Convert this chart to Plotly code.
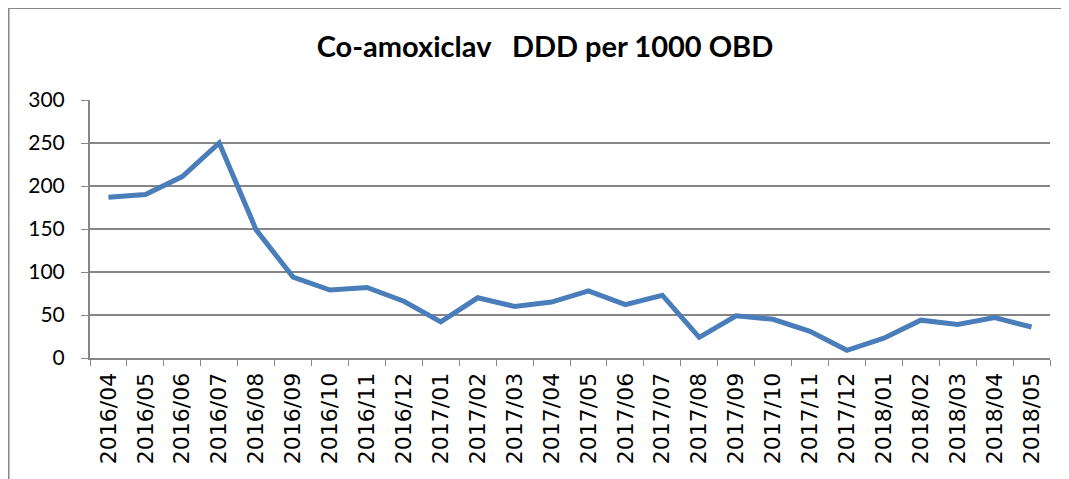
import plotly.graph_objects as go

months = ["2016/04", "2016/05", "2016/06", "2016/07", "2016/08", "2016/09", "2016/10",
          "2016/11", "2016/12", "2017/01", "2017/02", "2017/03", "2017/04", "2017/05",
          "2017/06", "2017/07", "2017/08", "2017/09", "2017/10", "2017/11", "2017/12",
          "2018/01", "2018/02", "2018/03", "2018/04", "2018/05"]
ddd = [187, 190, 211, 250, 149, 94, 79, 82, 66, 42, 70, 60, 65, 78, 62, 73, 24,
       49, 45, 31, 9, 23, 44, 39, 47, 36]
y_ticks = [0, 50, 100, 150, 200, 250, 300]
title_text = "Co-amoxiclav\u00a0\u00a0\u00a0DDD per 1000 OBD"

fig = go.Figure()
fig.add_trace(go.Scatter(x=months, y=ddd, mode="lines",
                         line=dict(color="#4A7EBB", width=5), hoverinfo="x+y"))

# page has an 8px body margin, so the figure is laid out 8px smaller/shifted
OFF = 8
W, H = 1069 - OFF, 479 - OFF
L, R, T, B = 90 - OFF, 19, 100 - OFF, 121
pw, ph = W - L - R, H - T - B

def px(x):
    return (x - OFF - L) / pw

def py(y):
    return (H + OFF - B - y) / ph

fig.update_layout(
    width=W, height=H,
    margin=dict(l=L, r=R, t=T, b=B),
    paper_bgcolor="white", plot_bgcolor="white",
    showlegend=False,
    title=dict(text="<b>" + title_text + "</b>", xref="container", x=(545 - OFF) / W,
               xanchor="center", yref="container", y=1 - (47 - OFF) / H, yanchor="middle",
               font=dict(family="Lato", size=29, color="black")),
    xaxis=dict(type="category", range=[-0.5, len(months) - 0.5],
               tickson="boundaries", ticks="outside", ticklen=6,
               tickcolor="#868686", showline=True, linecolor="#868686", linewidth=2,
               showgrid=False, tickangle=-90, automargin=False, ticklabelstandoff=4,
               tickfont=dict(family="DejaVu Sans", size=22, color="black")),
    yaxis=dict(range=[0, 300], tickvals=y_ticks, ticks="outside", ticklen=7,
               tickcolor="#868686", showline=True, linecolor="#868686", linewidth=2,
               showgrid=True, gridcolor="#868686", gridwidth=1.5, zeroline=False,
               automargin=False, ticklabelstandoff=12,
               tickfont=dict(family="Lato", size=21, color="black")),
    shapes=[
        dict(type="line", xref="paper", yref="paper", x0=px(8), x1=px(8),
             y0=py(7), y1=py(490), line=dict(color="#868686", width=3)),
        dict(type="line", xref="paper", yref="paper", x0=px(7), x1=px(1080),
             y0=py(8), y1=py(8), line=dict(color="#868686", width=2)),
    ],
)

fig.write_html("out.html")
